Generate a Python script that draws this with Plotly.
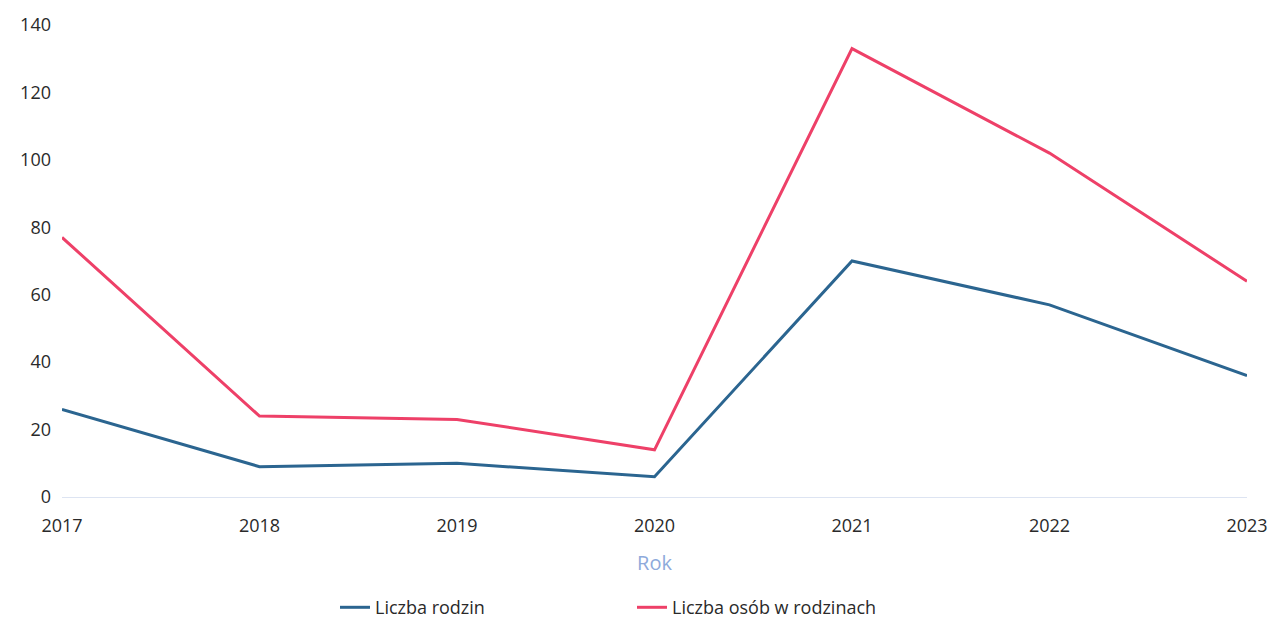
import plotly.graph_objects as go

# Data
years = [2017, 2018, 2019, 2020, 2021, 2022, 2023]
liczba_rodzin = [26, 9, 10, 6, 70, 57, 36]
liczba_osob = [77, 24, 23, 14, 133, 102, 64]

fig = go.Figure()

fig.add_trace(go.Scatter(x=years, y=liczba_rodzin,
                         mode='lines',
                         name='Liczba rodzin',
                         line=dict(color='#2b6590', width=3)))

fig.add_trace(go.Scatter(x=years, y=liczba_osob,
                         mode='lines',
                         name='Liczba osób w rodzinach',
                         line=dict(color='#ee4068', width=3)))

fig.update_layout(width=1273, height=620,
                  margin=dict(l=62, r=26, t=25, b=123, autoexpand=False),
                  plot_bgcolor='white',
                  paper_bgcolor='white',
                  font=dict(family='Open Sans', size=18, color='#2a2a2a'),
                  legend=dict(orientation='h',
                              x=0.481, xanchor='center',
                              yref='container', y=0.02, yanchor='middle',
                              entrywidth=252,
                              font=dict(size=18)),
                  xaxis=dict(title=dict(text='Rok', font=dict(color='#8eaadb', size=20), standoff=20),
                             tickmode='array', tickvals=years,
                             range=[2017, 2023],
                             showgrid=False, zeroline=False,
                             showline=True, linecolor='#dde4f2', linewidth=1,
                             ticks='', ticklabelstandoff=12,
                             automargin=False),
                  yaxis=dict(range=[0, 140], dtick=20,
                             showgrid=False, zeroline=False,
                             ticklabelstandoff=10,
                             automargin=False))

# drop the default page margin so the figure sits at the window's corner
fig.write_html("out.html",
               config={'displayModeBar': False},
               post_script="document.body.style.margin='0';")
